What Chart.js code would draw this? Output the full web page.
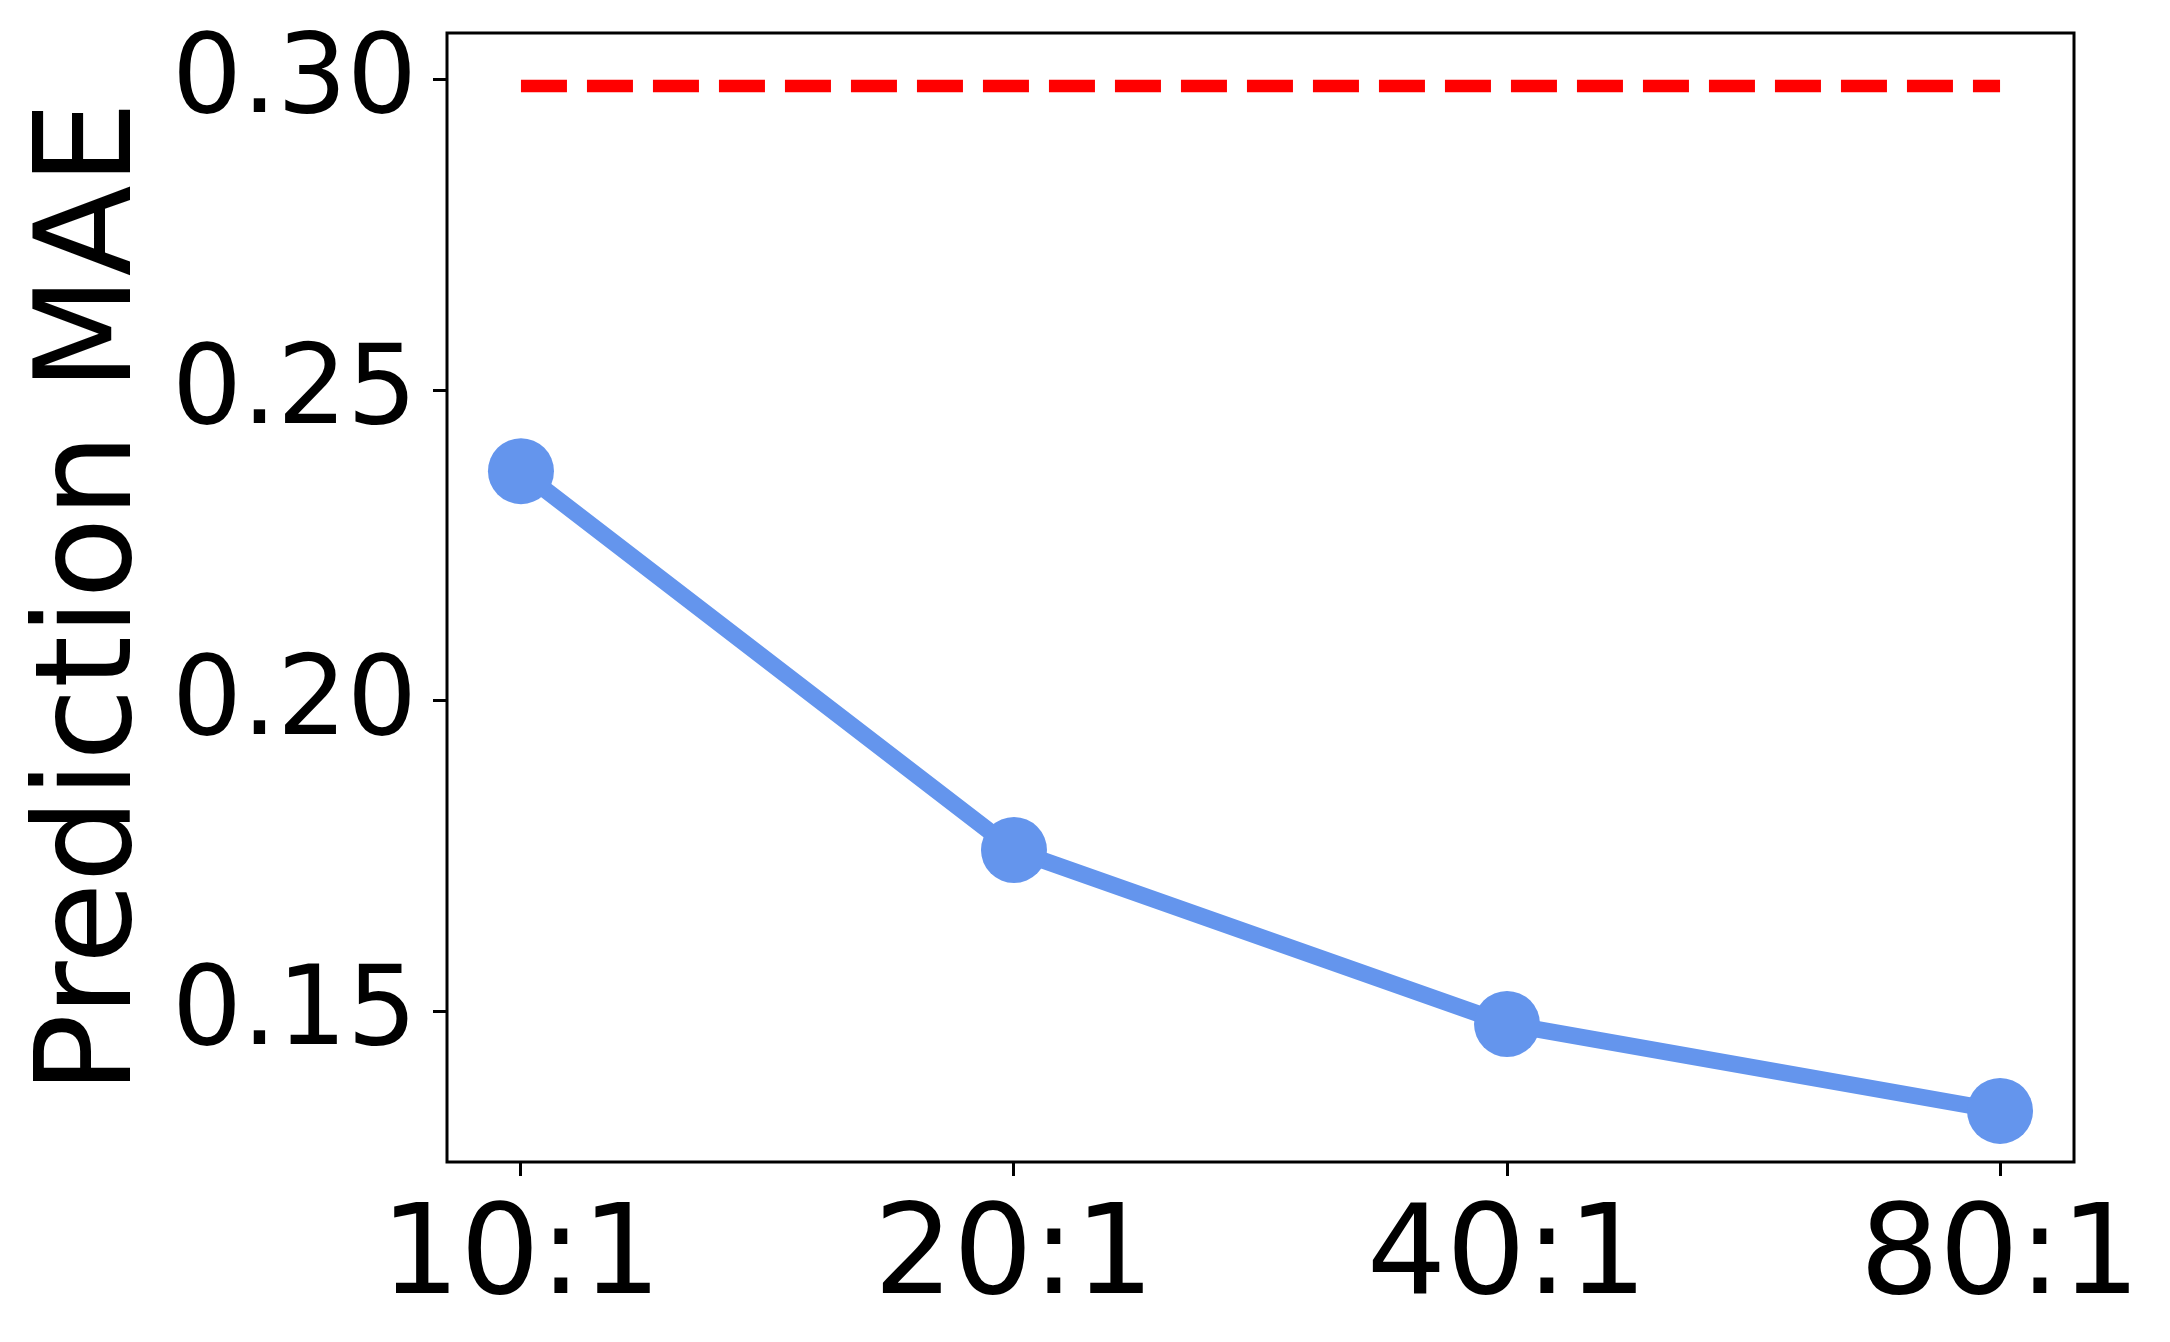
<!DOCTYPE html>
<html>
<head>
<meta charset="utf-8">
<script src="https://cdn.jsdelivr.net/npm/chart.js@4/dist/chart.umd.min.js"></script>
<style>
html,body{margin:0;padding:0;background:#fff;}
#c{display:block;}
</style>
</head>
<body>
<canvas id="c" width="2170" height="1342"></canvas>
<script>
const categories = ["10:1", "20:1", "40:1", "80:1"];
const maeValues = [0.237, 0.176, 0.148, 0.134];
const baselineValue = 0.299;
const yTickValues = [0.15, 0.20, 0.25, 0.30];
const yAxisLabel = "Prediction MAE";

const xPositions = categories.map((_, i) => i);
const font = "'DejaVu Sans', sans-serif";

const framePlugin = {
  id: 'frame',
  afterDatasetsDraw(chart) {
    const {ctx, chartArea: a} = chart;
    ctx.save();
    ctx.strokeStyle = '#000';
    ctx.lineWidth = 3;
    ctx.strokeRect(a.left, a.top, a.right - a.left, a.bottom - a.top);
    ctx.restore();
  }
};

new Chart(document.getElementById('c'), {
  type: 'line',
  data: {
    datasets: [
      {
        label: 'baseline',
        data: [{x: xPositions[0], y: baselineValue}, {x: xPositions[xPositions.length - 1], y: baselineValue}],
        borderColor: '#ff0000',
        borderWidth: 12.5,
        borderDash: [46, 20],
        borderCapStyle: 'butt',
        pointRadius: 0,
        fill: false
      },
      {
        label: 'MAE',
        data: xPositions.map((x, i) => ({x: x, y: maeValues[i]})),
        borderColor: '#6495ed',
        backgroundColor: '#6495ed',
        borderWidth: 16.7,
        pointRadius: 33,
        pointHoverRadius: 33,
        pointBackgroundColor: '#6495ed',
        pointBorderWidth: 0,
        borderJoinStyle: 'round',
        fill: false
      }
    ]
  },
  options: {
    responsive: false,
    animation: false,
    events: [],
    layout: {padding: {top: 29, right: 96, left: 0, bottom: 0}},
    plugins: {legend: {display: false}, tooltip: {enabled: false}},
    scales: {
      x: {
        type: 'linear',
        min: -0.15,
        max: 3.15,
        afterBuildTicks: s => { s.ticks = xPositions.map(v => ({value: v})); },
        afterFit: s => { s.height = 180; s.paddingLeft = 0; s.paddingRight = 0; },
        grid: {drawOnChartArea: false, drawTicks: true, tickLength: 14, tickWidth: 3, color: '#000'},
        border: {display: false},
        ticks: {
          color: '#000',
          padding: 10,
          maxRotation: 0,
          autoSkip: false,
          font: {family: font, size: 125},
          callback: v => categories[Math.round(v)]
        }
      },
      y: {
        type: 'linear',
        min: 0.12577,
        max: 0.30754,
        afterBuildTicks: s => { s.ticks = yTickValues.map(v => ({value: v})); },
        afterFit: s => { s.width = 447; s.paddingTop = 0; s.paddingBottom = 0; },
        grid: {drawOnChartArea: false, drawTicks: true, tickLength: 14, tickWidth: 3, color: '#000'},
        border: {display: false},
        ticks: {
          color: '#000',
          padding: 16,
          labelOffset: 4,
          autoSkip: false,
          font: {family: font, size: 110},
          callback: v => v.toFixed(2)
        },
        title: {
          display: true,
          text: yAxisLabel,
          color: '#000',
          font: {family: font, size: 133},
          padding: {top: 16, bottom: 0}
        }
      }
    }
  },
  plugins: [framePlugin]
});
</script>
</body>
</html>
